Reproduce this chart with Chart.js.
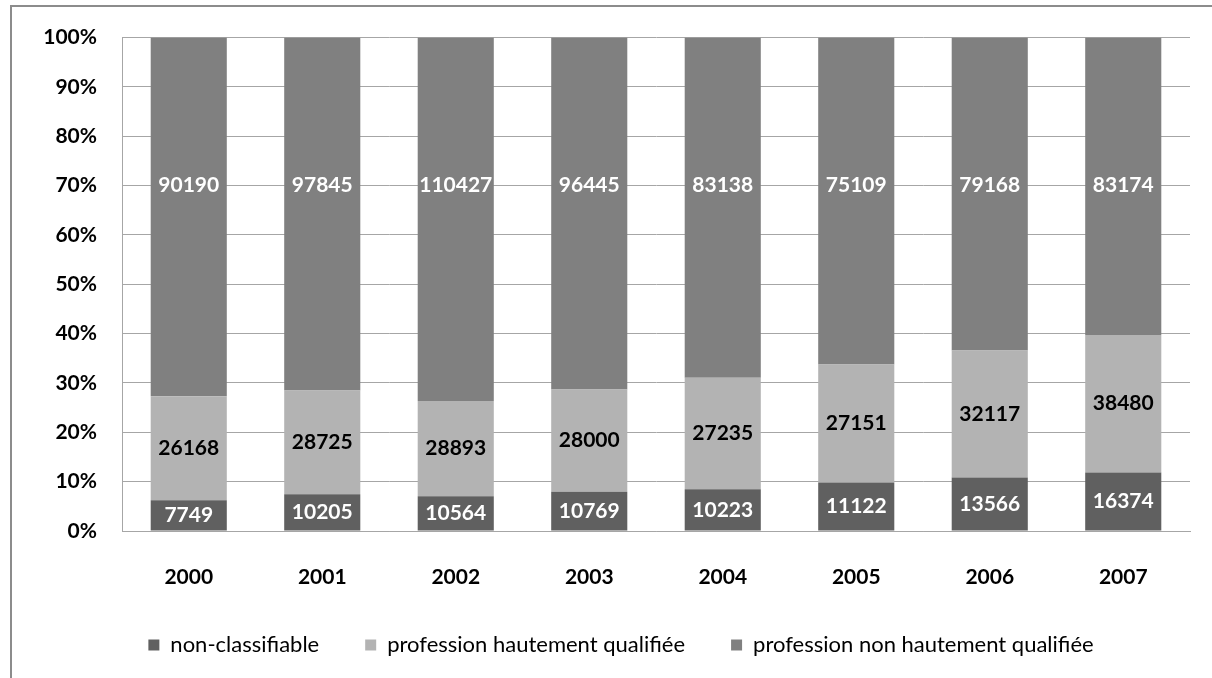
<!DOCTYPE html>
<html>
<head>
<meta charset="utf-8">
<script src="https://cdn.jsdelivr.net/npm/chart.js@4.4.1/dist/chart.umd.min.js"></script>
<style>
    html, body { margin: 0; padding: 0; background: #fff; overflow: hidden; }
    #wrap { position: relative; width: 1212px; height: 678px; }
    #frame { position: absolute; left: 10px; top: 5px; width: 1300px; height: 800px; border: 2px solid #8c8c8c; box-sizing: border-box; }
    canvas { position: absolute; left: 0; top: 0; }
</style>
</head>
<body>
<div id="wrap">
    <div id="frame"></div>
    <canvas id="chart" width="1212" height="678"></canvas>
</div>
<script>
// Données
const years = ['2000', '2001', '2002', '2003', '2004', '2005', '2006', '2007'];
const nonClassifiable = [7749, 10205, 10564, 10769, 10223, 11122, 13566, 16374];
const hautementQualifiee = [26168, 28725, 28893, 28000, 27235, 27151, 32117, 38480];
const nonHautementQualifiee = [90190, 97845, 110427, 96445, 83138, 75109, 79168, 83174];
const yTicks = [0, 10, 20, 30, 40, 50, 60, 70, 80, 90, 100];

const seriesNames = ['non-classifiable', 'profession hautement qualifiée', 'profession non hautement qualifiée'];
const seriesValues = [nonClassifiable, hautementQualifiee, nonHautementQualifiee];
const seriesColors = ['#606060', '#b3b3b3', '#808080'];
const labelColors = ['#ffffff', '#000000', '#ffffff'];

// totaux par année pour passer en 100%
const totals = years.map((y, i) => seriesValues.reduce((s, arr) => s + arr[i], 0));

const FONT = 'Lato, "Open Sans", sans-serif';

// étiquettes de valeur dans les barres
const valueLabels = {
    id: 'valueLabels',
    afterLayout(chart) {
        // la légende d'Excel est un peu décalée vers la droite
        chart.legend.left += 26;
        chart.legend.right += 26;
    },
    afterDatasetsDraw(chart) {
        const ctx = chart.ctx;
        const yScale = chart.scales.y;
        ctx.save();
        ctx.font = 'bold 21px ' + FONT;
        ctx.textAlign = 'center';
        ctx.textBaseline = 'middle';
        chart.data.datasets.forEach((ds, di) => {
            const meta = chart.getDatasetMeta(di);
            meta.data.forEach((bar, i) => {
                let y = (bar.y + bar.base) / 2;
                // Excel pose l'étiquette du segment du haut vers 70%
                if (di === chart.data.datasets.length - 1) y = yScale.getPixelForValue(70);
                ctx.fillStyle = labelColors[di];
                ctx.fillText(ds.raw[i], bar.x, y);
            });
        });
        ctx.restore();
    }
};

const ctx = document.getElementById('chart').getContext('2d');
new Chart(ctx, {
    type: 'bar',
    data: {
        labels: years,
        datasets: seriesNames.map((name, k) => ({
            label: name,
            raw: seriesValues[k],
            data: seriesValues[k].map((v, i) => v / totals[i] * 100),
            backgroundColor: seriesColors[k],
            borderWidth: 0,
            barPercentage: 0.57,
            categoryPercentage: 1
        }))
    },
    options: {
        responsive: false,
        animation: false,
        layout: { padding: { top: 37, right: 22, left: 0, bottom: 12 } },
        plugins: {
            tooltip: { enabled: false },
            legend: {
                position: 'bottom',
                labels: {
                    color: '#000',
                    font: { family: FONT, size: 22 },
                    boxWidth: 11,
                    boxHeight: 11,
                    padding: 46
                }
            }
        },
        scales: {
            x: {
                stacked: true,
                grid: { display: false, drawTicks: false },
                border: { display: true, color: '#a6a6a6', width: 1 },
                ticks: { color: '#000', font: { family: FONT, size: 21, weight: 'bold' }, padding: 34 },
                afterFit(scale) { scale.height = 57; }
            },
            y: {
                stacked: true,
                min: 0,
                max: 100,
                afterBuildTicks(scale) { scale.ticks = yTicks.map(v => ({ value: v })); },
                grid: { color: '#a6a6a6', lineWidth: 1, drawTicks: false },
                border: { display: true, color: '#a6a6a6', width: 1 },
                ticks: {
                    color: '#000',
                    font: { family: FONT, size: 21, weight: 'bold' },
                    padding: 25,
                    callback: v => v + '%'
                },
                afterFit(scale) { scale.width = 122; }
            }
        }
    },
    plugins: [valueLabels]
});
</script>
</body>
</html>
